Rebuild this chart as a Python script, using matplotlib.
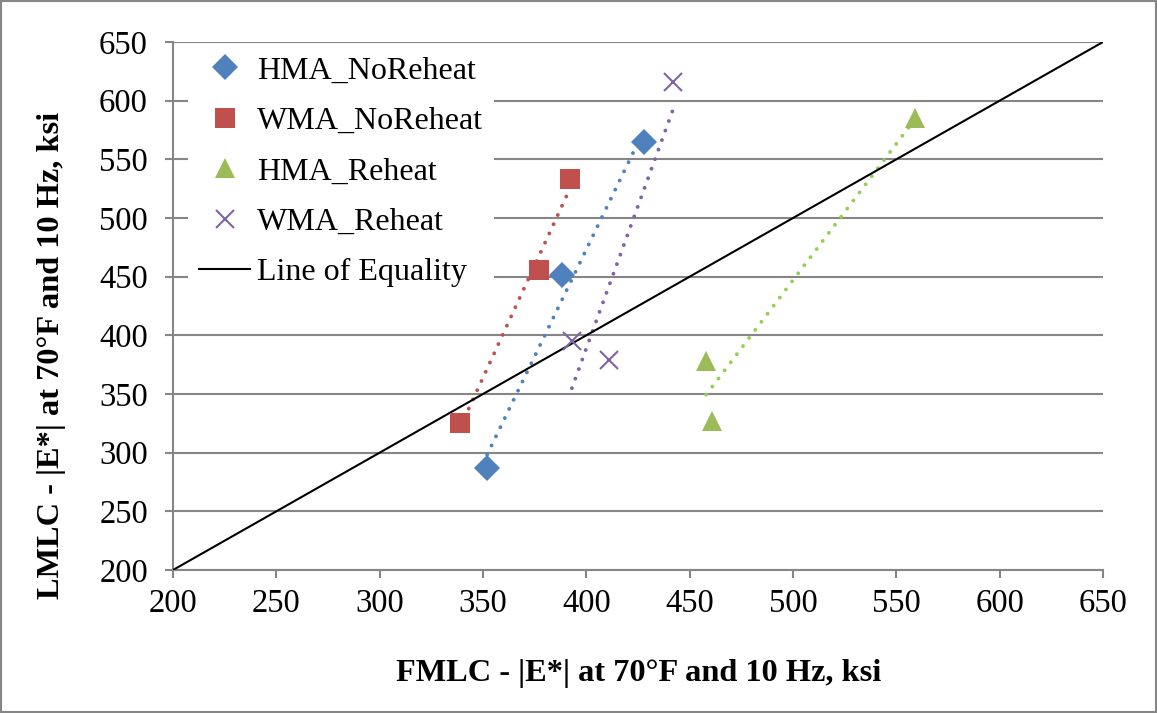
import numpy as np
import matplotlib
matplotlib.use('Agg')
import matplotlib.pyplot as plt
from matplotlib.patches import Rectangle

plt.rcParams['font.family'] = ['Liberation Serif', 'DejaVu Serif']

# 读图得到的数据 (FMLC, LMLC)
hma_no_x = [352, 388, 428]
hma_no_y = [287, 451, 565]
wma_no_x = [339, 377, 392]
wma_no_y = [325, 456, 533]
hma_re_x = [458, 461, 559]
hma_re_y = [378, 327, 585]
wma_re_x = [393, 411, 442]
wma_re_y = [395, 379, 616]

ticks = [200, 250, 300, 350, 400, 450, 500, 550, 600, 650]

fig = plt.figure(figsize=(11.57, 7.13), dpi=100)
ax = fig.add_axes([173/1157, 1-570/713, 930/1157, 528/713])

grey = '#868686'
series = [
    ('HMA_NoReheat', hma_no_x, hma_no_y, 'D', '#4F81BD', '#4F81BD', 13),
    ('WMA_NoReheat', wma_no_x, wma_no_y, 's', '#C0504D', '#C0504D', 14),
    ('HMA_Reheat', hma_re_x, hma_re_y, '^', '#9BBB59', '#92D050', 14),
    ('WMA_Reheat', wma_re_x, wma_re_y, 'x', '#8064A2', '#8064A2', 13),
]

handles = []
for name, xs, ys, mk, c, tc, ms in series:
    xs = np.array(xs, dtype=float)
    ys = np.array(ys, dtype=float)
    # 线性趋势线
    k, b = np.polyfit(xs, ys, 1)
    xx = np.array([xs.min(), xs.max()])
    ax.plot(xx, k*xx + b, color=tc, linewidth=2.8, linestyle=(0, (0.01, 2.6)),
            dash_capstyle='round', zorder=3)
    if mk == 'x':
        h, = ax.plot(xs, ys, linestyle='none', marker=mk, color=c, markersize=ms,
                     markeredgewidth=1.5, label=name, zorder=4)
    else:
        h, = ax.plot(xs, ys, linestyle='none', marker=mk, color=c, markersize=ms,
                     markeredgewidth=0, label=name, zorder=4)
    handles.append(h)

eq, = ax.plot([200, 650], [200, 650], color='k', linewidth=1.5, label='Line of Equality', zorder=3)
handles.append(eq)

ax.set_xlim(200, 650)
ax.set_ylim(200, 650)
ax.set_xticks(ticks)
ax.set_yticks(ticks)
ax.yaxis.grid(True, color=grey, linewidth=1.5)
ax.set_axisbelow(True)
for s in ['top', 'right']:
    ax.spines[s].set_visible(False)
for s in ['left', 'bottom']:
    ax.spines[s].set_color(grey)
    ax.spines[s].set_linewidth(1.5)
ax.tick_params(axis='both', direction='out', length=6, width=1.5, color=grey, labelsize=23.5)
ax.tick_params(axis='x', pad=7)
ax.tick_params(axis='y', pad=12)

fig.text(52/1157, 1-355/713, 'LMLC - |E*| at 70°F and 10 Hz, ksi', rotation=90,
         ha='center', va='center', fontsize=23.3, fontweight='bold')
fig.text(639/1157, 1-673/713, 'FMLC - |E*| at 70°F and 10 Hz, ksi',
         ha='center', va='center', fontsize=23.3, fontweight='bold')

leg = ax.legend(handles=handles, loc='upper left', bbox_to_anchor=(188/1157, 1-45/713),
                bbox_transform=fig.transFigure, fontsize=23, frameon=True, fancybox=False,
                facecolor='white', edgecolor='none', framealpha=1, borderpad=0.35,
                borderaxespad=0, handlelength=1.6, handletextpad=0.2, labelspacing=0.66)
leg.set_zorder(5)

fig.patches.append(Rectangle((0.001, 0.001), 0.998, 0.998, transform=fig.transFigure,
                             fill=False, edgecolor=grey, linewidth=1.5))

plt.savefig('out.png', dpi=100)
